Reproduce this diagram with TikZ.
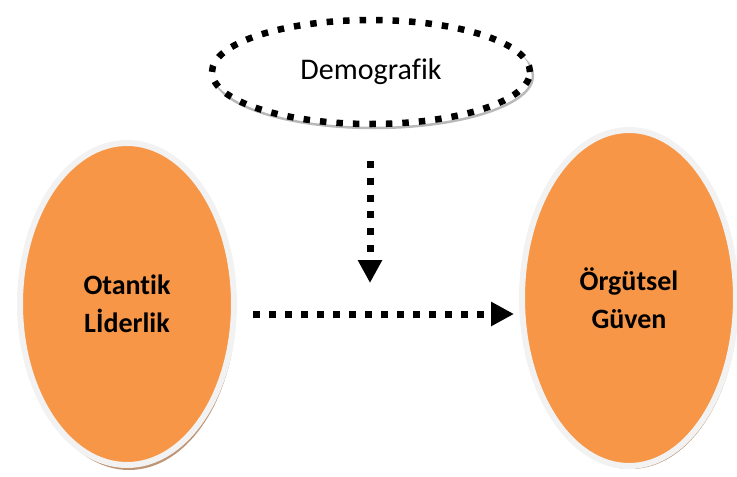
\documentclass[tikz,border=0pt]{standalone}
\usepackage{fontspec}
\setmainfont{Carlito}[RawFeature={-liga;-clig;-dlig}]
\usetikzlibrary{shapes.geometric,arrows.meta}
\definecolor{orng}{HTML}{F79646}
\definecolor{rim}{HTML}{F2F2F2}
\definecolor{shad}{HTML}{BE9474}
\tikzset{
  bigoval/.style={ellipse,fill=orng,draw=rim,line width=6pt,inner sep=0pt,
    font=\fontsize{28}{38}\selectfont\bfseries,align=center},
  ovalshadow/.style={ellipse,fill=shad,inner sep=0pt},
  demooval/.style={ellipse,draw=black,line width=6.5pt,dash pattern=on 6.5pt off 10pt,
    inner sep=0pt,fill=white,font=\fontsize{30}{35}\selectfont},
  dotarrow/.style={line width=7pt,dash pattern=on 7pt off 9pt,
    -{Triangle[length=23pt,width=23pt]}}
}
\begin{document}
\begin{tikzpicture}[x=1pt,y=-1pt]
\useasboundingbox (0,0) rectangle (737,477);
% shadows
\node[ovalshadow,minimum width=214pt,minimum height=326pt] at (129,307) {};
\node[ovalshadow,minimum width=214pt,minimum height=336pt] at (631,301) {};
\draw[gray!55,line width=2.5pt] (374,76) ellipse [x radius=159,y radius=52];
% nodes
\node[bigoval,minimum width=214pt,minimum height=322pt] (L) at (127,304) {Otantik\\Lİderlik};
\node[bigoval,minimum width=214pt,minimum height=336pt] (R) at (629,298) {Örgütsel\\Güven};
\node[demooval,minimum width=318pt,minimum height=104pt] (D) at (371,72) {Demografik};
% connectors
\coordinate (vt) at (370,283);
\coordinate (hs) at (253,314);
\draw[dotarrow,dash pattern=on 7pt off 9.7pt] (D.south -| vt) ++(0,34) -- (vt);
\draw[dotarrow] (hs) -- ([xshift=-5pt]R.west |- hs);
\end{tikzpicture}
\end{document}
